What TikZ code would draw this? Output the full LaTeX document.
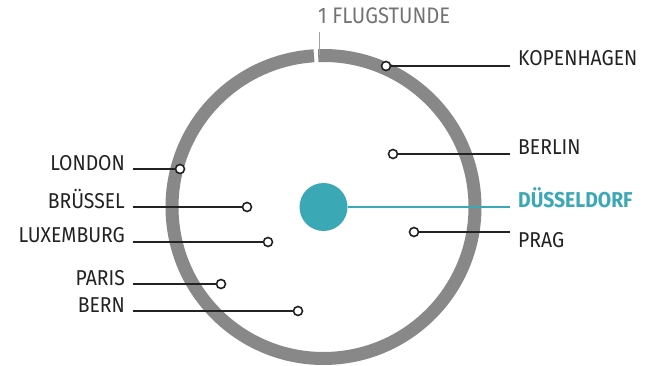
\documentclass[tikz,border=0pt]{standalone}
\usepackage{fontspec}
\newfontfamily\cityfont[FakeStretch=0.9]{Fira Sans}
\usetikzlibrary{positioning}

\definecolor{ringgray}{RGB}{136,136,136}
\definecolor{tickgray}{RGB}{160,160,160}
\definecolor{hourgray}{RGB}{115,115,115}
\definecolor{teal}{RGB}{59,168,181}
\definecolor{ink}{RGB}{34,34,34}

\begin{document}
\begin{tikzpicture}[x=1pt,y=1pt,
    city/.style={font=\cityfont\fontsize{21.5}{21.5}\selectfont,text=ink,inner sep=0pt},
    pin/.style={draw=ink,circle,fill=white,line width=1.6pt,minimum size=9pt,inner sep=0pt},
    lead/.style={draw=ink,line width=1.1pt}]
        \useasboundingbox (0,0) rectangle (654,365);

        \coordinate (M) at (323.5,158);

        % ring with its gap at the top
        \draw[ringgray,line width=13pt] ([shift={(93.6:151.5)}]M) arc[start angle=93.6,end angle=452,radius=151.5];
        \coordinate (T0) at (319.5,310);
        \coordinate (T1) at (319.5,333);
        \draw[tickgray,line width=1.3pt] (T0) -- (T1);
        \node[city,text=hourgray,anchor=base west,font=\cityfont\fontsize{22.5}{22.5}\selectfont] (hour) at (318,341) {1 FLUGSTUNDE};

        % home
        \node[circle,fill=teal,minimum size=48pt,inner sep=0pt] (DUS) at (M) {};
        \coordinate (E0) at (510,158);
        \node[city,text=teal,anchor=base west,font=\cityfont\bfseries\fontsize{21.5}{21.5}\selectfont] (t0) at (518,158) {DÜSSELDORF};
        \draw[teal,line width=1.1pt] (DUS) -- (E0);

        %############################################ right

        \node[pin] (P1) at (386,299) {};
        \node[pin] (P2) at (393,211) {};
        \node[pin] (P3) at (414,133) {};

        \coordinate (E1) at (510,299);
        \coordinate (E2) at (510,211);
        \coordinate (E3) at (510,133);

        \node[city,anchor=base west] (t1) at (518,299) {KOPENHAGEN};
        \node[city,anchor=base west] (t2) at (518,211) {BERLIN};
        \node[city,anchor=base west] (t3) at (518,118) {PRAG};

        \draw[lead] (P1) -- (E1);
        \draw[lead] (P2) -- (E2);
        \draw[lead] (P3) -- (E3);

        %############################################ left

        \node[pin] (P4) at (180,196) {};
        \node[pin] (P5) at (247,158) {};
        \node[pin] (P6) at (268,123) {};
        \node[pin] (P7) at (221,81) {};
        \node[pin] (P8) at (298,54) {};

        \coordinate (E4) at (133,196);
        \coordinate (E5) at (133,158);
        \coordinate (E6) at (133,123);
        \coordinate (E7) at (133,81);
        \coordinate (E8) at (133,54);

        \node[city,anchor=base east] (t4) at (125,194) {LONDON};
        \node[city,anchor=base east] (t5) at (125,157) {BRÜSSEL};
        \node[city,anchor=base east] (t6) at (125,123) {LUXEMBURG};
        \node[city,anchor=base east] (t7) at (125,80) {PARIS};
        \node[city,anchor=base east] (t8) at (125,53) {BERN};

        \draw[lead] (E4) -- (P4);
        \draw[lead] (E5) -- (P5);
        \draw[lead] (E6) -- (P6);
        \draw[lead] (E7) -- (P7);
        \draw[lead] (E8) -- (P8);
\end{tikzpicture}
\end{document}
